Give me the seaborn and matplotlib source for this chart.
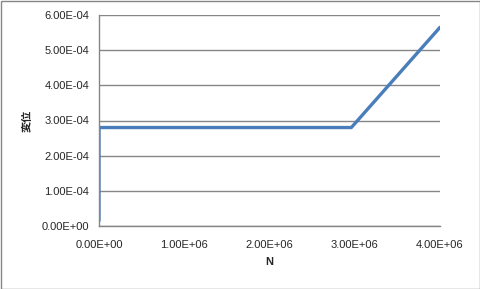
import matplotlib
matplotlib.use("Agg")
import matplotlib.pyplot as plt
import seaborn as sns
import pandas as pd
from matplotlib.patches import Rectangle

N = [0.0, 0.0, 2.96e6, 4.0e6]
disp = [1.5e-5, 2.8e-4, 2.8e-4, 5.65e-4]
xticks = [0, 1e6, 2e6, 3e6, 4e6]
xtick_labels = ["0.00E+00", "1.00E+06", "2.00E+06", "3.00E+06", "4.00E+06"]
yticks = [0, 1e-4, 2e-4, 3e-4, 4e-4, 5e-4, 6e-4]
ytick_labels = ["0.00E+00", "1.00E-04", "2.00E-04", "3.00E-04", "4.00E-04", "5.00E-04", "6.00E-04"]

sns.set_style("white")
plt.rcParams['font.family'] = ['Liberation Sans', 'Noto Sans CJK JP', 'DejaVu Sans']

df = pd.DataFrame({"N": N, "disp": disp})
fig = plt.figure(figsize=(4.81, 2.89), dpi=100)
ax = fig.add_axes([99/481, 63/289, 341/481, 211/289])
sns.lineplot(data=df, x="N", y="disp", ax=ax, color="#4a7ebb", linewidth=2.4,
             estimator=None, sort=False)

ax.set_xlim(0, 4e6)
ax.set_ylim(0, 6e-4)
ax.set_xticks(xticks)
ax.set_xticklabels(xtick_labels)
ax.set_yticks(yticks)
ax.set_yticklabels(ytick_labels)
ax.tick_params(axis='both', labelsize=8, length=4, width=1, color="#868686", direction='out', pad=3)
ax.tick_params(axis='x', pad=6)
ax.grid(axis='y', color="#868686", linewidth=1)
for s in ['top', 'right']:
    ax.spines[s].set_visible(False)
for s in ['left', 'bottom']:
    ax.spines[s].set_color("#868686")
    ax.spines[s].set_linewidth(1)
ax.set_xlabel("N", fontsize=8, fontweight='bold', labelpad=5)
ax.set_ylabel("変位", fontsize=8, fontweight='bold', family=['Noto Sans CJK JP'], labelpad=6)

fig.patches.append(Rectangle((0.5/481, 0.5/289), 479.5/481, 287.5/289, transform=fig.transFigure,
                             fill=False, edgecolor="#868686", linewidth=1))
fig.savefig("out.png", dpi=100)
